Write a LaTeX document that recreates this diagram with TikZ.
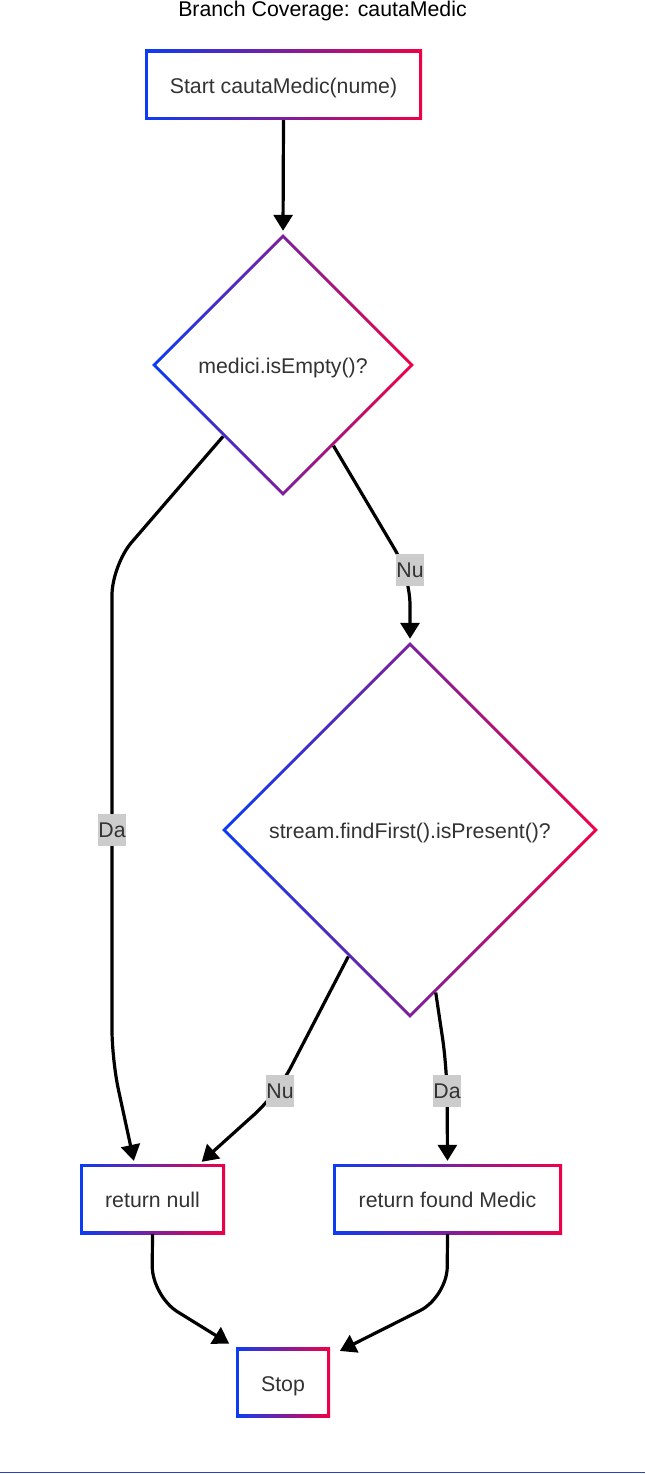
\documentclass[tikz,border=0pt]{standalone}
\usepackage{fontspec}
\setmainfont{Liberation Sans}
\usetikzlibrary{shapes.geometric,arrows.meta}
\definecolor{gblue}{RGB}{10,60,245}
\definecolor{gred}{RGB}{240,0,70}
\definecolor{txt}{RGB}{51,51,51}
\definecolor{lblbg}{RGB}{204,204,204}
\definecolor{baseblue}{RGB}{40,70,190}
\begin{document}
\begin{tikzpicture}[x=1pt,y=-1pt,
  font=\fontsize{21.3}{25}\selectfont,
  box/.style={rectangle, minimum width=#1, minimum height=70pt, inner sep=0pt, text=txt,
    text height=17pt, text depth=0pt,
    left color=gblue, right color=gred,
    path picture={\fill[white] ([shift={(3.2pt,-3.2pt)}]path picture bounding box.north west) rectangle ([shift={(-3.2pt,3.2pt)}]path picture bounding box.south east);}},
  dia/.style={diamond, aspect=1, minimum width=#1, minimum height=#1, inner sep=0pt, text=txt,
    text height=17pt, text depth=0pt,
    left color=gblue, right color=gred,
    path picture={\fill[white] ([yshift=-4.4pt]path picture bounding box.north) -- ([xshift=-4.4pt]path picture bounding box.east) -- ([yshift=4.4pt]path picture bounding box.south) -- ([xshift=4.4pt]path picture bounding box.west) -- cycle;}},
  lbl/.style={fill=lblbg, text=txt, inner xsep=0.5pt, inner ysep=0pt, minimum height=32pt},
  conn/.style={draw=black, line width=3.2pt, rounded corners=30pt, shorten >=3pt,
    -{Triangle[length=16pt,width=19pt]}}
]
\useasboundingbox (0,0) rectangle (645,1474);
\node[text=black] (title) at (322.5,11) {Branch Coverage: cautaMedic};

\node[box=277pt] (start) at (283.5,85) {Start cautaMedic(nume)};
\node[dia=262pt] (d1) at (283,365) {medici.isEmpty()?};
\node[dia=376pt] (d2) at (410,830) {stream.findFirst().isPresent()?};
\node[box=145pt] (rnull) at (152.5,1199) {return null};
\node[box=229pt] (found) at (447.5,1199) {return found Medic};
\node[box=94pt] (stop) at (283,1382.5) {Stop};

\draw[conn] (start.south) -- (d1.north);
\draw[conn] (d1.-130) -- (112,565) -- (112,1060) -- ([xshift=-18pt]rnull.north);
\draw[conn] (d1.-58) -- (410,575) -- (d2.north);
\draw[conn] (d2.-116) -- (277,1094) -- ([xshift=47pt]rnull.north);
\draw[conn] (d2.-81) -- (447,1068) -- (found.north);
\draw[conn] (rnull.south) -- (152,1296) -- ([shift={(-4pt,2pt)}]stop.north west);
\draw[conn] (found.south) -- (447,1297) -- ([shift={(7pt,-5pt)}]stop.north east);

\node[lbl] (lda1) at (112,830) {Da};
\node[lbl] (lnu1) at (410,570) {Nu};
\node[lbl] (lnu2) at (280,1091) {Nu};
\node[lbl] (lda2) at (447,1091) {Da};

\draw[baseblue, line width=1pt] (0,1472.5) coordinate (bl) -- (645,1472.5) coordinate (br);
\end{tikzpicture}
\end{document}
